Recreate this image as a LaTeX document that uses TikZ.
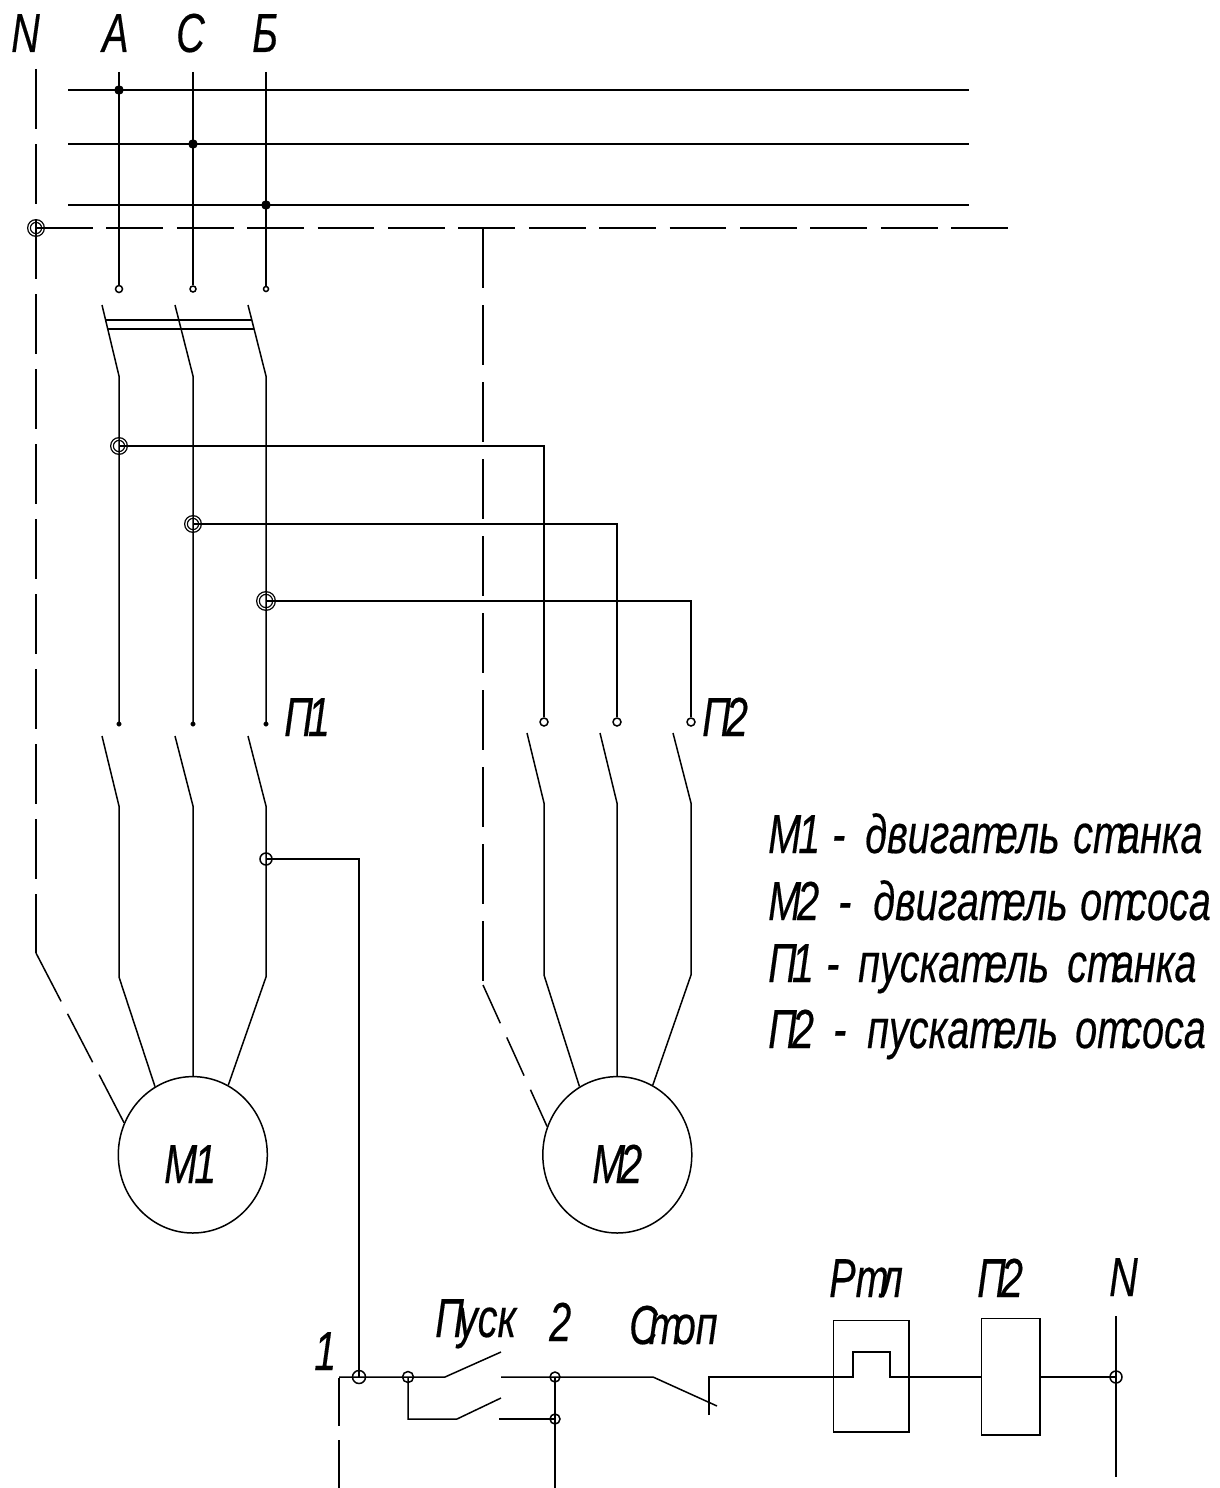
\documentclass[tikz,border=0pt]{standalone}
\usepackage{fontspec}
\usetikzlibrary{shapes.geometric}
\setmainfont{Liberation Sans}[FakeStretch=0.72,FakeBold=0.3]
\newcommand{\tkn}{т\kern-8pt\relax}
\newcommand{\lgcell}[2]{\makebox[#1pt][l]{#2}}
\tikzset{
  wire/.style={line width=1.5pt},
  nwire/.style={line width=1.5pt,dash pattern=on 60pt off 15pt},
  dot/.style={circle,fill=black,draw,inner sep=0pt,minimum size=9pt},
  term/.style={circle,draw,line width=1.5pt,inner sep=0pt,minimum size=#1},
  ring/.style={circle,draw,line width=1.3pt,double,double distance=1.3pt,inner sep=0pt,minimum size=#1},
  motor/.style={ellipse,draw,line width=1.5pt,inner sep=0pt,minimum width=149pt,minimum height=156.4pt},
  lab/.style={inner sep=0pt,anchor=base west,font=\fontsize{55}{60}\selectfont\itshape},
}
\begin{document}
\begin{tikzpicture}[x=1pt,y=-1pt]
  \useasboundingbox (0,0) rectangle (1219,1488);

  % labels of the phases
  \node [lab] (tN) at (11,52) {N};
  \node [lab] (tA) at (102,52) {A};
  \node [lab] (tC) at (176,52) {C};
  \node [lab] (tB) at (252,52) {Б};

  % bus bars
  \coordinate (b1l) at (68,90);  \coordinate (b1r) at (969,90);
  \coordinate (b2l) at (68,144); \coordinate (b2r) at (969,144);
  \coordinate (b3l) at (68,205); \coordinate (b3r) at (969,205);
  \draw [wire] (b1l) -- (b1r);
  \draw [wire] (b2l) -- (b2r);
  \draw [wire] (b3l) -- (b3r);

  % feeds to the first switch
  \coordinate (fa) at (119,72);
  \coordinate (fc) at (193,72);
  \coordinate (fb) at (266,72);
  \node [dot] (da) at (119,90) {};
  \node [dot] (dc) at (193,144) {};
  \node [dot] (db) at (266,205) {};
  \node [term=7pt] (ta) at (119,289) {};
  \node [term=6pt] (tc) at (193,289) {};
  \node [term=5pt] (tb) at (266,289) {};
  \draw [wire] (fa) -- (ta);
  \draw [wire] (fc) -- (tc);
  \draw [wire] (fb) -- (tb);

  % neutral
  \node [ring=14pt] (n0) at (36,228) {};
  \coordinate (nt) at (36,69);
  \coordinate (nk) at (36,953);
  \coordinate (nr) at (1009,228);
  \coordinate (nb) at (483,228);
  \coordinate (nk2) at (483,985);

  % first switch
  \coordinate (s1a) at (102,305); \coordinate (k1a) at (119,376);
  \coordinate (s1c) at (175,305); \coordinate (k1c) at (193,376);
  \coordinate (s1b) at (248,305); \coordinate (k1b) at (266,376);
  \coordinate (g1l) at (105.5,320);  \coordinate (g1r) at (252,320);
  \coordinate (g2l) at (107.5,329);\coordinate (g2r) at (254,329);
  \draw [wire] (g1l) -- (g1r);
  \draw [wire] (g2l) -- (g2r);

  % branches and П1 contacts
  \node [ring=14pt] (ra) at (119,446) {};
  \node [ring=14pt] (rc) at (193,524) {};
  \node [ring=16pt] (rb) at (266,601) {};
  \node [dot,minimum size=4.5pt] (pa) at (119,724) {};
  \node [dot,minimum size=4.5pt] (pc) at (193,724) {};
  \node [dot,minimum size=4.5pt] (pb) at (266,724) {};
  \draw [wire] (s1a) -- (k1a) -- (pa.center);
  \draw [wire] (s1c) -- (k1c) -- (pc.center);
  \draw [wire] (s1b) -- (k1b) -- (pb.center);

  % П2 contacts
  \node [term=8pt] (qa) at (544,722) {};
  \node [term=8pt] (qc) at (617,722) {};
  \node [term=8pt] (qb) at (691,722) {};
  \draw [wire] (ra.center) -| (qa);
  \draw [wire] (rc.center) -| (qc);
  \draw [wire] (rb.center) -| (qb);
  \node [lab] (tP1) at (284,736) {П\kern-5pt 1};
  \node [lab] (tP2) at (702,736) {П\kern-5pt 2};

  % motors
  \node [motor] (m1) at (192.8,1154.8) {};
  \node [motor] (m2) at (617.3,1154.8) {};
  \node [lab] (tM1) at (164,1183) {М\kern-3pt 1};
  \node [lab] (tM2) at (592,1183) {М\kern-5pt 2};

  % neutral, drawn to the motors
  \draw [nwire] (nt) -- (nk);
  \draw [nwire,dash pattern=on 54.5pt off 14pt] (nk) -- (m1.155);
  \draw [nwire,dash pattern=on 56.7pt off 13.7pt] (n0.center) -- (nr);
  \draw [nwire,dash pattern=on 60pt off 17pt] (nb) -- (nk2);
  \draw [nwire,dash pattern=on 42pt off 15.5pt] (nk2) -- (m2.158);

  % leads to M1
  \coordinate (u1a) at (102,736);  \coordinate (v1a) at (119,806); \coordinate (w1a) at (119,977);
  \coordinate (u1c) at (175,736);  \coordinate (v1c) at (193,806);
  \coordinate (u1b) at (248,736);  \coordinate (v1b) at (266,806); \coordinate (w1b) at (266,977);
  \draw [wire] (u1a) -- (v1a) -- (w1a) -- (m1.119);
  \draw [wire] (u1c) -- (v1c) -- (m1.north -| v1c);
  \draw [wire] (u1b) -- (v1b) -- (w1b) -- (m1.63);

  % leads to M2
  \coordinate (u2a) at (527,733);  \coordinate (v2a) at (544,803);   \coordinate (w2a) at (544,975);
  \coordinate (u2c) at (600,733);  \coordinate (v2c) at (617,803);
  \coordinate (u2b) at (673,733);  \coordinate (v2b) at (691,803);   \coordinate (w2b) at (691,975);
  \draw [wire] (u2a) -- (v2a) -- (w2a) -- (m2.119);
  \draw [wire] (u2c) -- (v2c) -- (m2.north -| v2c);
  \draw [wire] (u2b) -- (v2b) -- (w2b) -- (m2.63);

  % legend
  \node [lab] (l1) at (768,853) {\lgcell{64}{М\kern-3pt 1}\lgcell{33}{-}\lgcell{197}{двига\tkn ель} с\tkn анка};
  \node [lab] (l2) at (768,920) {\lgcell{70}{М\kern-4pt 2}\lgcell{35}{-}\lgcell{196}{двига\tkn ель} о\tkn соса};
  \node [lab] (l3) at (768,982) {\lgcell{58}{П\kern-5pt 1}\lgcell{32}{-}\lgcell{198}{пуска\tkn ель} с\tkn анка};
  \node [lab] (l4) at (768,1048) {\lgcell{65}{П\kern-5pt 2}\lgcell{34}{-}\lgcell{197}{пуска\tkn ель} о\tkn соса};

  % control circuit
  \node [term=12pt] (j0) at (266,859) {};
  \node [term=13pt] (j1) at (359,1377) {};
  \node [term=11pt] (j2) at (408,1377) {};
  \node [term=10pt] (j3) at (555,1377) {};
  \node [term=10pt] (j4) at (555,1419) {};
  \node [term=12pt] (j5) at (1116,1377) {};
  \draw [wire] (j0.center) -| (j1.center);

  \coordinate (c1) at (339,1377);
  \coordinate (c0) at (339,1488);
  \coordinate (c2) at (445,1377);
  \coordinate (c3) at (501,1352);
  \draw [wire,dash pattern=on 48pt off 14.5pt] (c0) -- (c1);
  \draw [wire] (c1) -- (c2) -- (c3);

  \coordinate (h1) at (408,1419);
  \coordinate (h2) at (457,1419);
  \coordinate (h3) at (501,1398);
  \draw [wire] (j2.center) -- (h1) -- (h2) -- (h3);

  \coordinate (e1) at (501,1377);
  \coordinate (e2) at (653,1377);
  \coordinate (e3) at (717,1406);
  \draw [wire] (e1) -- (e2) -- (e3);

  \coordinate (o1) at (499,1419);
  \coordinate (o2) at (555,1488);
  \draw [wire] (o1) -- (j4.center);
  \draw [wire] (j3.center) -- (o2);

  \node [draw,wire,minimum width=75.5pt,minimum height=111.5pt,inner sep=0pt] (rtl) at (871,1376) {};
  \node [draw,wire,minimum width=58.5pt,minimum height=116.5pt,inner sep=0pt] (pp2) at (1010.5,1376.5) {};
  \coordinate (s1) at (709,1415);
  \coordinate (s2) at (709,1377);
  \coordinate (x1) at (853,1377); \coordinate (x2) at (853,1352);
  \coordinate (x3) at (890,1352); \coordinate (x4) at (890,1377);
  \coordinate (y1) at (982,1377); \coordinate (y2) at (1039,1377);
  \coordinate (z1) at (1116,1316); \coordinate (z2) at (1116,1477);
  \draw [wire] (s1) -- (s2) -- (x1) -- (x2) -- (x3) -- (x4) -- (y1);
  \draw [wire] (y2) -- (j5.center);
  \draw [wire] (z1) -- (z2);

  \node [lab] (t1) at (314,1370) {1};
  \node [lab] (t2) at (549,1341) {2};
  \node [lab] (tS) at (435,1337) {П\kern-6pt уск};
  \node [lab] (tT) at (629,1344) {С\kern-9pt \tkn оп};
  \node [lab] (tR) at (829,1297) {Р\tkn л};
  \node [lab] (tQ) at (977,1297) {П\kern-5pt 2};
  \node [lab] (tZ) at (1109,1296) {N};
\end{tikzpicture}
\end{document}
